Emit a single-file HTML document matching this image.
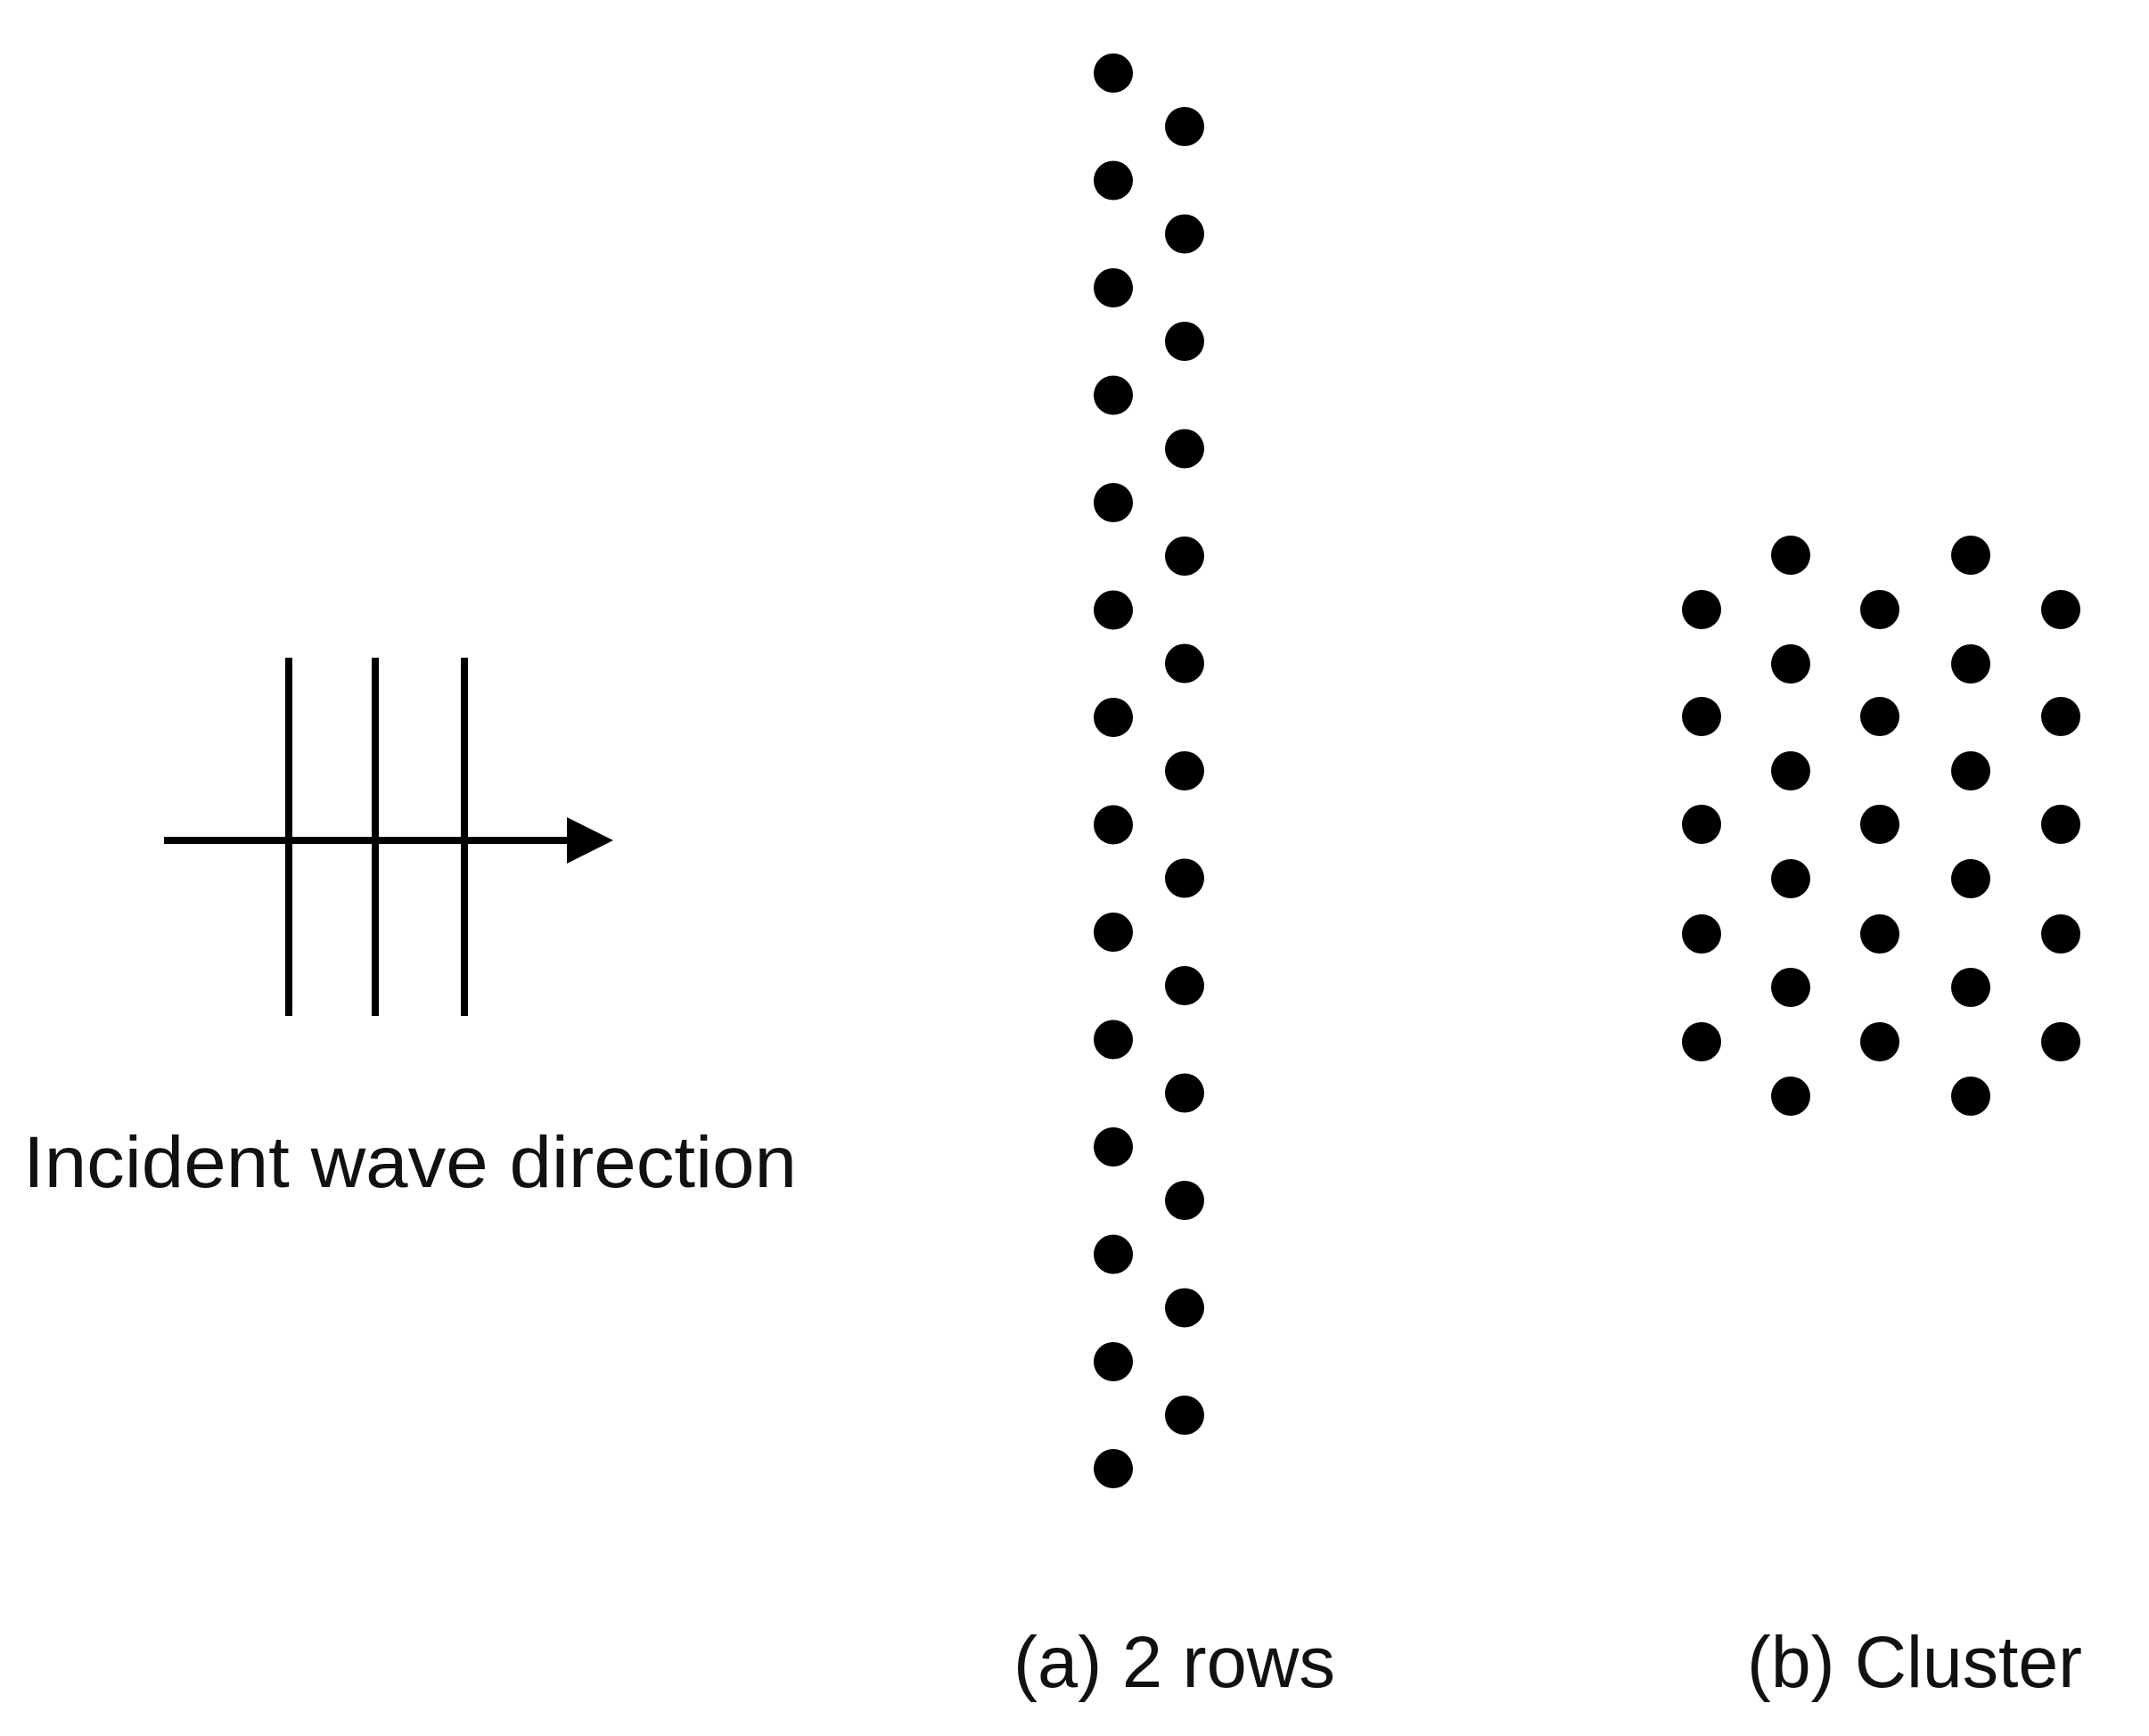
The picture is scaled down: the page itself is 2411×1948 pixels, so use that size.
<!DOCTYPE html>
<html><head><meta charset="utf-8"><style>html,body{margin:0;padding:0;background:#fff}svg{display:block}</style></head>
<body>
<svg width="2411" height="1948" viewBox="0 0 2411 1948" xmlns="http://www.w3.org/2000/svg">
<rect width="2411" height="1948" fill="#fff"/>
<g stroke="#000" stroke-width="8">
<line x1="184" y1="943" x2="645" y2="943"/>
<line x1="324" y1="738" x2="324" y2="1140"/>
<line x1="421" y1="738" x2="421" y2="1140"/>
<line x1="521" y1="738" x2="521" y2="1140"/>
</g>
<polygon points="636,917 688,943 636,969" fill="#000"/>
<g fill="#000">
<circle cx="1249" cy="82" r="22"/><circle cx="1249" cy="202.5" r="22"/><circle cx="1249" cy="323" r="22"/><circle cx="1249" cy="443.5" r="22"/><circle cx="1249" cy="564" r="22"/><circle cx="1249" cy="684.5" r="22"/><circle cx="1249" cy="805" r="22"/><circle cx="1249" cy="925.5" r="22"/><circle cx="1249" cy="1046" r="22"/><circle cx="1249" cy="1166.5" r="22"/><circle cx="1249" cy="1287" r="22"/><circle cx="1249" cy="1407.5" r="22"/><circle cx="1249" cy="1528" r="22"/><circle cx="1249" cy="1648" r="22"/>
<circle cx="1329" cy="142" r="22"/><circle cx="1329" cy="262.5" r="22"/><circle cx="1329" cy="383" r="22"/><circle cx="1329" cy="503.5" r="22"/><circle cx="1329" cy="624" r="22"/><circle cx="1329" cy="744.5" r="22"/><circle cx="1329" cy="865" r="22"/><circle cx="1329" cy="985.5" r="22"/><circle cx="1329" cy="1106" r="22"/><circle cx="1329" cy="1226.5" r="22"/><circle cx="1329" cy="1347" r="22"/><circle cx="1329" cy="1467.5" r="22"/><circle cx="1329" cy="1588" r="22"/>
<circle cx="1909" cy="684" r="22"/><circle cx="1909" cy="804" r="22"/><circle cx="1909" cy="925" r="22"/><circle cx="1909" cy="1048" r="22"/><circle cx="1909" cy="1169" r="22"/>
<circle cx="2109" cy="684" r="22"/><circle cx="2109" cy="804" r="22"/><circle cx="2109" cy="925" r="22"/><circle cx="2109" cy="1048" r="22"/><circle cx="2109" cy="1169" r="22"/>
<circle cx="2312" cy="684" r="22"/><circle cx="2312" cy="804" r="22"/><circle cx="2312" cy="925" r="22"/><circle cx="2312" cy="1048" r="22"/><circle cx="2312" cy="1169" r="22"/>
<circle cx="2009" cy="623" r="22"/><circle cx="2009" cy="745" r="22"/><circle cx="2009" cy="865" r="22"/><circle cx="2009" cy="986" r="22"/><circle cx="2009" cy="1108" r="22"/><circle cx="2009" cy="1230" r="22"/>
<circle cx="2211" cy="623" r="22"/><circle cx="2211" cy="745" r="22"/><circle cx="2211" cy="865" r="22"/><circle cx="2211" cy="986" r="22"/><circle cx="2211" cy="1108" r="22"/><circle cx="2211" cy="1230" r="22"/>
</g>
<g font-family="Liberation Sans, DejaVu Sans, sans-serif" font-size="82" fill="#111">
<text x="26" y="1332" textLength="868" lengthAdjust="spacingAndGlyphs">Incident wave direction</text>
<text x="1137" y="1893" textLength="361" lengthAdjust="spacingAndGlyphs">(a) 2 rows</text>
<text x="1960" y="1893" textLength="376" lengthAdjust="spacingAndGlyphs">(b) Cluster</text>
</g>
</svg>
</body></html>
